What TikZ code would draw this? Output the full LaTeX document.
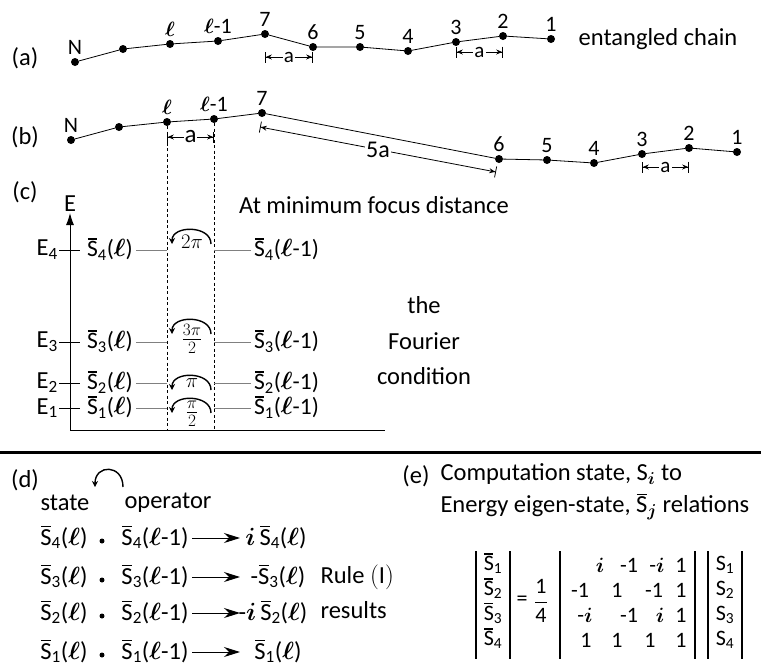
\documentclass[tikz,border=0pt]{standalone}
\usepackage{amsmath,amssymb}
\usepackage{fontspec}
\setmainfont{Carlito}
\usepackage{tikz}
\usetikzlibrary{arrows.meta,positioning,calc}
\tikzset{
  bead/.style     = {fill, circle, inner sep=0pt, minimum size=8pt},
  chainlbl/.style = {font=\fontsize{22}{24}\selectfont, label distance=0pt},
  link/.style     = {line width=0.8pt},
  dimline/.style  = {line width=0.8pt,
                    arrows={Bar[width=11pt]Stealth[length=6pt,width=5pt]-Stealth[length=6pt,width=5pt]Bar[width=11pt]}},
  dimlbl/.style   = {fill=white, inner sep=1pt, font=\fontsize{21}{23}\selectfont},
  levline/.style  = {line width=0.8pt, gray},
  levtxt/.style   = {inner sep=0pt, font=\fontsize{23.5}{25}\selectfont},
  guide/.style    = {line width=0.8pt, dash pattern=on 3pt off 2.5pt},
  turn/.style     = {line width=1.4pt, -{Stealth[length=6pt,width=6pt]}},
  sig/.style      = {line width=1pt, -{Stealth[length=16pt,width=10pt]}},
  pickoff/.style  = {fill, circle, inner sep=0pt, minimum size=5pt},
  vbar/.style     = {line width=1.2pt},
  mtx/.style      = {font=\fontsize{22}{24}\selectfont, inner sep=1pt},
}
\newcommand{\ovS}{\ooalign{S\cr\hidewidth\rule[0.73em]{0.4em}{0.06em}\hidewidth\cr}}
\newcommand{\Sb}[1]{\ovS\textsubscript{#1}}
\newcommand{\el}{$\boldsymbol{\ell}$}
\newcommand{\bi}{$\boldsymbol{i}$}
\newcommand{\phfrac}[2]{{\fontsize{23}{25}\selectfont$\frac{#1}{#2}$}}

\begin{document}
\begin{tikzpicture}[x=1pt,y=-1pt,font=\fontsize{24.5}{28}\selectfont]
\useasboundingbox (0,0) rectangle (761,670);

% (a) entangled chain
\node (la) at (25,58) {(a)};
\foreach \nm/\px/\py/\tx in {aN/75/62/N,aM/123/49/{},aL/170/44/\el,aK/218/41/{\el-1},
    a7/265/34/7,a6/313/47/6,a5/360/47/5,a4/408/51/4,a3/456/42/3,a2/503/36/2,a1/551/39/1}
  \node[bead,label={[chainlbl]above:\tx}] (\nm) at (\px,\py) {};
\draw[link] (aN) -- (aM) -- (aL) -- (aK) -- (a7) -- (a6) -- (a5) -- (a4) -- (a3) -- (a2) -- (a1);
\node[right=20pt of a1] (ent) {entangled chain};
\coordinate (ya) at (0,57);
\coordinate (yb) at (0,52);
\draw[dimline] (a7 |- ya) -- node[dimlbl] {a} (a6 |- ya);
\draw[dimline] (a3 |- yb) -- node[dimlbl] {a} (a2 |- yb);

% (b) chain at minimum focus distance
\node (lb) at (25,137) {(b)};
\foreach \nm/\px/\py/\tx in {bN/71/140/N,bM/119/127/{},bL/167/122/\el,bK/214/119/{\el-1},
    b7/262/113/7,b6/499/159/6,b5/547/160/5,b4/594/163/4,b3/642/154/3,b2/689/148/2,b1/737/152/1}
  \node[bead,label={[chainlbl]above:\tx}] (\nm) at (\px,\py) {};
\draw[link] (bN) -- (bM) -- (bL) -- (bK) -- (b7) -- (b6) -- (b5) -- (b4) -- (b3) -- (b2) -- (b1);
\coordinate (yc) at (0,137);
\coordinate (yd) at (0,167);
\draw[dimline] (bL |- yc) -- node[dimlbl,font=\fontsize{25}{27}\selectfont] {a} (bK |- yc);
\draw[dimline] (b3 |- yd) -- node[dimlbl] {a} (b2 |- yd);
\draw[dimline] ($(b7)+(-2,14)$) -- node[dimlbl,font=\fontsize{24}{26}\selectfont] {5a} ($(b6)+(-3,13)$);

% (c) energy levels
\node (lc) at (25,192) {(c)};
\node (title) at (374,205) {At minimum focus distance};
\coordinate (o) at (70,430);
\draw[line width=1pt,-{Latex[length=12pt,width=8pt]}] (o) -- (70,213) node[above,inner sep=1pt] (eax) {E};
\draw[line width=1pt] (o) -- (385,430);
\draw[guide] (bL) -- (bL |- o);
\draw[guide] (bK) -- (bK |- o);
\foreach \k/\ly in {4/250,3/342,2/383,1/408} {
  \node[anchor=east,inner sep=1pt] (e\k) at (59,\ly) {E\textsubscript{\k}};
  \draw[line width=0.8pt] (e\k.east) -- ++(21,0);
  \node[levtxt] (sl\k) at (110,\ly) {\Sb{\k}(\el)};
  \node[levtxt,anchor=west] (sr\k) at (254,\ly) {\Sb{\k}(\el-1)};
  \draw[levline] ([xshift=3pt]sl\k.east) -- (sl\k.east -| bL);
  \draw[levline] ([xshift=-3pt]sr\k.west) -- (sr\k.west -| bK);
}
\foreach \k/\cy/\py/\ph in {4/244/242/{$2\pi$},3/334/339/{\phfrac{3\pi}{2}},2/390/383/{$\pi$},1/413/414/{\phfrac{\pi}{2}}} {
  \node[font=\fontsize{21}{23}\selectfont,inner sep=0pt] (ph\k) at (192,\py) {\ph};
  \draw[turn] (211,\cy) .. controls (211,\cy-19) and (172,\cy-19) .. (172,\cy);
}
\node (fa) at (424,305) {the};
\node (fb) at (424,341) {Fourier};
\node (fc) at (424,376) {condition};

\draw[line width=3pt] (0,452) -- (761,452);

% (d) rule (I)
\node (ld) at (25,480) {(d)};
\node (st) at (65,503) {state};
\node (opr) at (168,503) {operator};
\draw[turn] (123,487) .. controls (123,464) and (95,464) .. (95,487);
\coordinate (tipx) at (240,0);
\foreach \k/\ry/\rx/\res in {4/538/276/{\bi\,\Sb4(\el)},3/577/278/{-\Sb3(\el)},2/613/273/{-\bi\,\Sb2(\el)},1/652/278/{\Sb1(\el)}} {
  \node (ds\k) at (64,\ry) {\Sb{\k}(\el)};
  \node[pickoff] (dot\k) at (102,\ry+3) {};
  \node (dop\k) at (155,\ry) {\Sb{\k}(\el-1)};
  \node (dr\k) at (\rx,\ry) {\res};
  \draw[sig] (dop\k.east) -- (dop\k.east -| tipx);
}
\node[anchor=west] (rule) at (317,577) {Rule $(\mathrm{I})$};
\node[anchor=west] (rres) at (317,610) {results};

% (e) transformation
\node (le) at (416,476) {(e)};
\node[anchor=west] (ea) at (437,474) {Computation state, S$_{\boldsymbol{i}}$ to};
\node[anchor=west] (eb) at (437,508) {Energy eigen-state, \ovS$_{\boldsymbol{j}}$ relations};
\foreach \k in {1,2,3,4} {
  \node[mtx] (sv\k) at (493,540+25*\k) {\Sb{\k}};
  \node[mtx] (cv\k) at (725,540+25*\k) {S\textsubscript{\k}};
}
\node[mtx] (eq) at (522,601) {=};
\node[mtx] (qt) at (541,601) {$\dfrac{\text{1}}{\text{4}}$};
\foreach \ex/\ey/\et [count=\n] in {600/565/\bi,629/565/-1,657/565/-\bi,681/565/1,
    580/590/-1,617/590/1,654/590/-1,681/590/1,
    585/615/-\bi,629/615/-1,660/615/\bi,681/615/1,
    586/640/1,617/640/1,650/640/1,681/640/1}
  \node[mtx] (m\n) at (\ex,\ey) {\et};
\foreach \bx in {476,510,560,695,708,742}
  \draw[vbar] (\bx,551) -- (\bx,659);
\end{tikzpicture}
\end{document}
